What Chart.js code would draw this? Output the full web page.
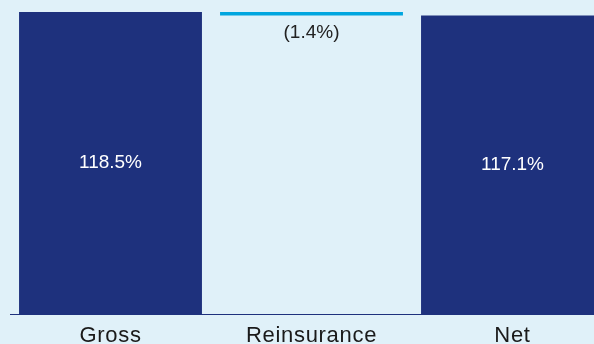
<!DOCTYPE html>
<html>
<head>
<meta charset="utf-8">
<script src="https://cdn.jsdelivr.net/npm/chart.js@4.4.1/dist/chart.umd.min.js"></script>
<style>
  html, body { margin: 0; padding: 0; background: #e0f1f9; overflow: hidden; width: 594px; height: 344px; }
  #wrap { position: absolute; left: 0; top: 0; width: 613px; height: 344px; }
</style>
</head>
<body>
<div id="wrap"><canvas id="c"></canvas></div>
<script>
const categories = ['Gross', 'Reinsurance', 'Net'];
const grossValue = 118.5;
const reinsuranceValue = -1.4;
const netValue = 117.1;
const valueLabels = ['118.5%', '(1.4%)', '117.1%'];

const NAVY = '#1e317d';
const CYAN = '#00a6df';

const barData = [
  [0, grossValue],
  [grossValue + reinsuranceValue, grossValue],
  [0, netValue]
];

const spacingPlugin = {
  id: 'spacing',
  beforeDraw(chart) {
    try { chart.ctx.letterSpacing = '0.7px'; } catch (e) {}
  }
};

const labelPlugin = {
  id: 'valueLabels',
  afterDatasetsDraw(chart) {
    const ctx = chart.ctx;
    const meta = chart.getDatasetMeta(0);
    ctx.save();
    try { ctx.letterSpacing = '0px'; } catch (e) {}
    ctx.font = '19px "Liberation Sans", Arial, sans-serif';
    ctx.textAlign = 'center';
    meta.data.forEach((bar, i) => {
      const props = bar.getProps(['x', 'y', 'base'], true);
      const top = Math.min(props.y, props.base);
      const bottom = Math.max(props.y, props.base);
      if (i === 1) {
        ctx.fillStyle = '#222222';
        ctx.textBaseline = 'top';
        ctx.fillText(valueLabels[i], props.x, bottom + 8);
      } else {
        ctx.fillStyle = '#ffffff';
        ctx.textBaseline = 'middle';
        ctx.fillText(valueLabels[i], props.x, (top + bottom) / 2);
      }
    });
    ctx.restore();
  }
};

new Chart(document.getElementById('c'), {
  type: 'bar',
  data: {
    labels: categories,
    datasets: [{
      data: barData,
      backgroundColor: [NAVY, CYAN, NAVY],
      borderWidth: 0,
      barPercentage: 0.91,
      categoryPercentage: 1.0
    }]
  },
  options: {
    responsive: true,
    maintainAspectRatio: false,
    animation: false,
    layout: { padding: { left: 10, top: 12, right: 0, bottom: 0 } },
    plugins: { legend: { display: false }, tooltip: { enabled: false } },
    scales: {
      x: {
        grid: { display: false, drawTicks: false },
        border: { display: true, color: NAVY, width: 1 },
        ticks: {
          color: '#1a1a1a',
          padding: 11,
          font: { family: '"Liberation Sans", Arial, sans-serif', size: 22, lineHeight: 1.0 }
        },
        afterFit(scale) { scale.height = 30; }
      },
      y: {
        display: false,
        min: 0,
        max: grossValue
      }
    }
  },
  plugins: [spacingPlugin, labelPlugin]
});
</script>
</body>
</html>
